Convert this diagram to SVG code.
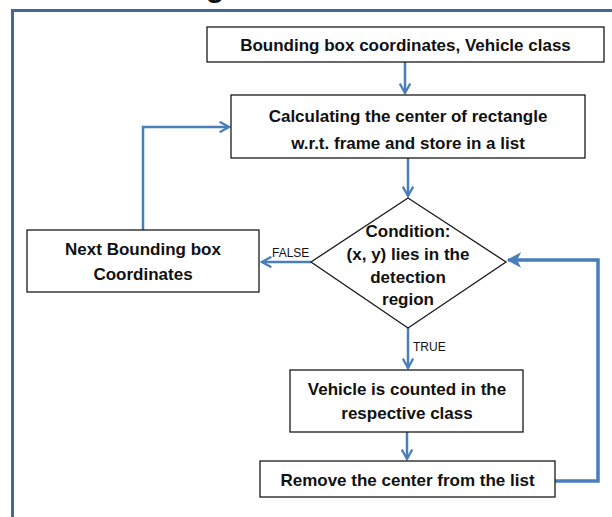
<svg xmlns="http://www.w3.org/2000/svg" width="612" height="517" viewBox="0 0 612 517">
<defs>
<style>
.box{fill:#fff;stroke:#1a1a1a;stroke-width:1.3}
.t{font-family:"Liberation Sans",Arial,sans-serif;font-weight:bold;font-size:17px;fill:#111;text-anchor:middle}
.lbl{font-family:"Liberation Sans",Arial,sans-serif;font-size:12px;fill:#111}
.c{fill:none;stroke:#4a7ebb;stroke-width:2.5}
.cl{fill:none;stroke:#4a7ebb;stroke-width:3.5}
</style>
<marker id="ah" viewBox="0 0 12 12" refX="10" refY="6" markerWidth="5" markerHeight="5" orient="auto" markerUnits="strokeWidth">
<path d="M1,1 L10,6 L1,11" fill="none" stroke="#4a7ebb" stroke-width="2.2"/>
</marker>
<marker id="ahf" viewBox="0 0 12 12" refX="10" refY="6" markerWidth="4.5" markerHeight="4.5" orient="auto" markerUnits="strokeWidth">
<path d="M0,0 L11,6 L0,12 L3,6 Z" fill="#4a7ebb"/>
</marker>
</defs>
<rect width="612" height="517" fill="#fff"/>
<text x="206" y="-3" style="font-family:'Liberation Sans',Arial,sans-serif;font-weight:bold;font-size:30px;fill:#111">g</text>
<path d="M12.5,517 V10.5 H612" fill="none" stroke="#41689a" stroke-width="3"/>

<g id="connectors">
<path class="c" d="M405,62 V93" marker-end="url(#ah)"/>
<path class="c" d="M408,158 V196" marker-end="url(#ah)"/>
<path class="c" d="M311,262 H262" marker-end="url(#ah)"/>
<path class="c" d="M143,230 V127 H229" marker-end="url(#ah)"/>
<path class="c" d="M408,328 V368" marker-end="url(#ah)"/>
<path class="c" d="M407,432 V459" marker-end="url(#ah)"/>
<path class="cl" d="M555,481 H598 V260 H508" marker-end="url(#ahf)"/>
<text class="lbl" x="272" y="257">FALSE</text>
<text class="lbl" x="413" y="351">TRUE</text>
</g>

<g id="n1">
<rect class="box" x="207" y="27" width="397" height="35"/>
<text class="t" x="405.5" y="51">Bounding box coordinates, Vehicle class</text>
</g>
<g id="n2">
<rect class="box" x="231" y="95" width="354" height="63"/>
<text class="t" x="408" y="122">Calculating the center of rectangle</text>
<text class="t" x="408" y="149">w.r.t. frame and store in a list</text>
</g>
<g id="n3">
<polygon class="box" points="408,198 506,262 408,328 311,262"/>
<text class="t" x="408" y="237">Condition:</text>
<text class="t" x="408" y="260">(x, y) lies in the</text>
<text class="t" x="408" y="283">detection</text>
<text class="t" x="408" y="305">region</text>
</g>
<g id="n4">
<rect class="box" x="27" y="230" width="232" height="62"/>
<text class="t" x="143" y="255">Next Bounding box</text>
<text class="t" x="143" y="280">Coordinates</text>
</g>
<g id="n5">
<rect class="box" x="290" y="370" width="233" height="62"/>
<text class="t" x="407" y="395">Vehicle is counted in the</text>
<text class="t" x="407" y="419">respective class</text>
</g>
<g id="n6">
<rect class="box" x="260" y="461" width="295" height="36"/>
<text class="t" x="407.5" y="486">Remove the center from the list</text>
</g>
</svg>
